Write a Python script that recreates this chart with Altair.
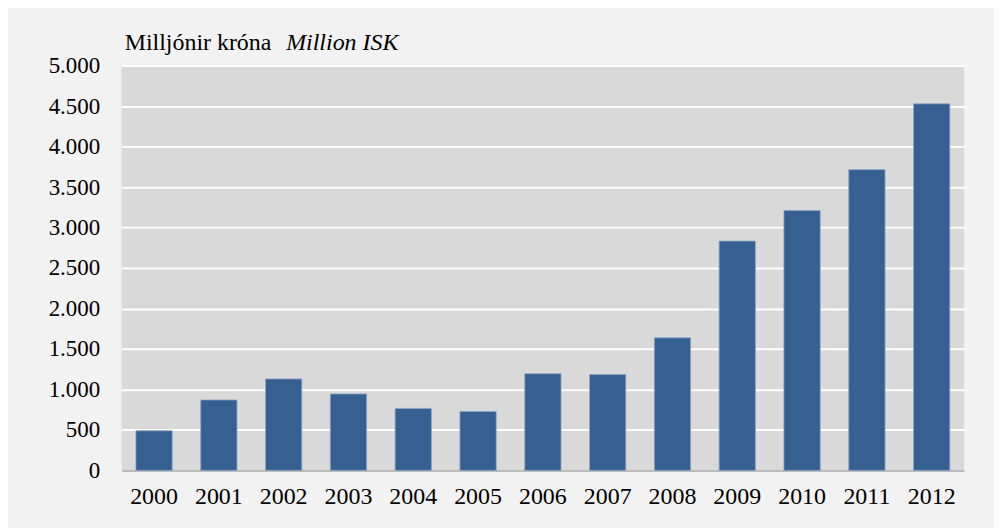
import altair as alt
import pandas as pd

years = ["2000", "2001", "2002", "2003", "2004", "2005", "2006",
         "2007", "2008", "2009", "2010", "2011", "2012"]
values = [490, 870, 1130, 945, 765, 728, 1195, 1185, 1638, 2833, 3210, 3715, 4528]
y_ticks = [0, 500, 1000, 1500, 2000, 2500, 3000, 3500, 4000, 4500, 5000]
title_main = "Milljónir króna"
title_italic = "Million ISK"

df = pd.DataFrame({"year": years, "value": values})

FONT = "'Liberation Serif', 'Times New Roman', Times, serif"

bars = alt.Chart(df).mark_bar(
    color="#366092", stroke="#8fa6c4", strokeWidth=0.8
).encode(
    x=alt.X("year:N", sort=years, title=None,
            scale=alt.Scale(paddingInner=0.44, paddingOuter=0.22),
            axis=alt.Axis(labelAngle=0, ticks=False, domain=True,
                          domainColor="#a6a6a6", domainWidth=1.5,
                          labelPadding=14, labelFontSize=24,
                          labelFont=FONT, labelColor="#000000", grid=False)),
    y=alt.Y("value:Q", title=None,
            scale=alt.Scale(domain=[0, 5000], nice=False),
            axis=alt.Axis(values=y_ticks, ticks=False, domain=False,
                          labelPadding=22, labelFontSize=23, labelFont=FONT,
                          labelColor="#000000", gridColor="#ffffff",
                          gridWidth=2, gridOpacity=1,
                          labelExpr="replace(format(datum.value, ',d'), ',', '.')")),
)

t1 = alt.Chart(pd.DataFrame({"t": [title_main]})).mark_text(
    align="left", baseline="middle", font=FONT, fontSize=24, color="#000000"
).encode(text="t:N", x=alt.value(3), y=alt.value(-23))

t2 = alt.Chart(pd.DataFrame({"t": [title_italic]})).mark_text(
    align="left", baseline="middle", font=FONT, fontSize=24, fontStyle="italic",
    color="#000000"
).encode(text="t:N", x=alt.value(165), y=alt.value(-23))

chart = alt.layer(bars, t1, t2).properties(
    width=845, height=406,
    autosize=alt.AutoSizeParams(type="none"),
    padding={"left": 114, "top": 57, "right": 30, "bottom": 60},
    background="#f2f2f2",
).configure_view(fill="#d9d9d9", stroke=None)

chart.save("out.html", embed_options={"renderer": "svg", "actions": False})
